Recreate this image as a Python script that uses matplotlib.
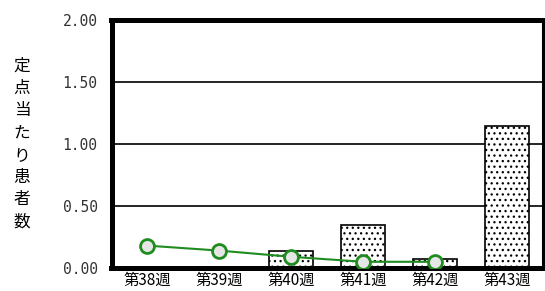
import matplotlib
matplotlib.use('Agg')
import matplotlib.pyplot as plt
import numpy as np

plt.rcParams['font.family'] = ['Noto Sans CJK JP', 'DejaVu Sans']
plt.rcParams['hatch.linewidth'] = 0.9

weeks = ['第38週', '第39週', '第40週', '第41週', '第42週', '第43週']
bar_vals = [0.0, 0.0, 0.14, 0.35, 0.07, 1.14]
line_vals = [0.18, 0.14, 0.09, 0.05, 0.05]
yticks = [0.0, 0.5, 1.0, 1.5, 2.0]

fig = plt.figure(figsize=(5.45, 2.91), dpi=100)
ax = fig.add_axes([111.5 / 545, 1 - 268 / 291, (543 - 111.5) / 545, (268 - 19.5) / 291])

x = np.arange(len(weeks))
ax.bar(x, bar_vals, width=0.61, color='white', edgecolor='black', linewidth=1.2,
       hatch='...', zorder=2)
ax.plot(x[:len(line_vals)], line_vals, color='#1e8c1e', linewidth=1.5, marker='o',
        markersize=10, markerfacecolor='#e6e6e6', markeredgecolor='#1e8c1e',
        markeredgewidth=2, zorder=3)

ax.set_xlim(-0.5, len(weeks) - 0.5)
ax.set_ylim(0, 2.0)
ax.set_yticks(yticks)
ax.set_yticklabels(['%.2f' % v for v in yticks], family='DejaVu Sans Mono',
                   fontsize=10.5, color='#333333')
ax.set_xticks(x)
ax.set_xticklabels(weeks, fontsize=11)
ax.tick_params(length=0)
ax.tick_params(axis='y', pad=10)
ax.tick_params(axis='x', pad=3)
for v in yticks[1:-1]:
    ax.axhline(v, color='black', linewidth=1.2, zorder=1)

for side in ['left', 'top', 'bottom']:
    ax.spines[side].set_linewidth(3.6)
ax.spines['right'].set_linewidth(2.2)

fig.text(22 / 545, 1 - 144 / 291, '\n'.join('定点当たり患者数'), ha='center', va='center',
         fontsize=12, linespacing=1.4)

fig.savefig('out.png', dpi=100)
